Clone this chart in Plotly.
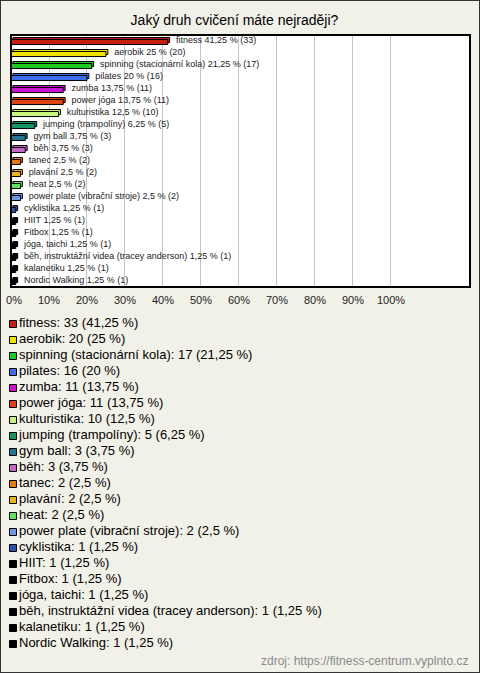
import plotly.graph_objects as go

title = "Jaký druh cvičení máte nejraději?"
source = "zdroj: https://fitness-centrum.vyplnto.cz"

categories = [
    "fitness", "aerobik", "spinning (stacionární kola)", "pilates", "zumba",
    "power jóga", "kulturistika", "jumping (trampolíny)", "gym ball", "běh",
    "tanec", "plavání", "heat", "power plate (vibrační stroje)", "cyklistika",
    "HIIT", "Fitbox", "jóga, taichi", "běh, instruktážní videa (tracey anderson)",
    "kalanetiku", "Nordic Walking",
]
counts = [33, 20, 17, 16, 11, 11, 10, 5, 3, 3, 2, 2, 2, 2, 1, 1, 1, 1, 1, 1, 1]
colors = [
    "#c81e0f", "#f2e400", "#1ec81e", "#3c6ef0", "#c814d2",
    "#e0420f", "#c8f57a", "#149664", "#1e7896", "#c864c8",
    "#e6780a", "#e6b414", "#5ae65a", "#6e96e6", "#2850b4",
    "#000000", "#000000", "#000000", "#000000", "#000000", "#000000",
]
tick_vals = [0, 10, 20, 30, 40, 50, 60, 70, 80, 90, 100]
tick_text = ["\u00a0\u00a00%"] + [f"{v}%" for v in tick_vals[1:]]

total = 80
pcts = [c / total * 100 for c in counts]


def fmt(v):
    s = f"{v:.2f}".rstrip("0").rstrip(".")
    return s.replace(".", ",")


bar_labels = [f"{n} {fmt(p)} % ({c})" for n, p, c in zip(categories, pcts, counts)]
legend_labels = [f"{n}: {c} ({fmt(p)} %)" for n, p, c in zip(categories, pcts, counts)]
idx = list(range(len(categories)))

W, H = 480, 673
BG = "#f2f1e8"
def py(px):
    return 1 - px / H

fig = go.Figure()

# back (3D) face
fig.add_trace(go.Bar(
    y=idx, x=pcts, base=0.5, orientation="h",
    width=0.42, offset=-0.29,
    marker=dict(color=colors, line=dict(color="#000000", width=1)),
    hoverinfo="skip", showlegend=False, xaxis="x", yaxis="y",
))
# front face
fig.add_trace(go.Bar(
    y=idx, x=pcts, orientation="h",
    width=0.42, offset=-0.125,
    marker=dict(color=colors, line=dict(color="#000000", width=1)),
    hoverinfo="skip", showlegend=False, xaxis="x", yaxis="y",
))
# bar labels
fig.add_trace(go.Scatter(
    y=idx, x=[p + 2.2 for p in pcts], mode="text", text=bar_labels,
    textposition="middle right",
    textfont=dict(family="Liberation Sans, Arial", size=9, color="#222222"),
    hoverinfo="skip", showlegend=False, xaxis="x", yaxis="y", cliponaxis=False,
))

# legend markers
fig.add_trace(go.Scatter(
    y=idx, x=[13] * len(idx), mode="markers",
    marker=dict(symbol="square", size=7, color=colors,
                line=dict(color="#000000", width=1)),
    hoverinfo="skip", showlegend=False, xaxis="x2", yaxis="y2",
))
fig.add_trace(go.Scatter(
    y=idx, x=[19] * len(idx), mode="text", text=legend_labels,
    textposition="middle right",
    textfont=dict(family="Liberation Sans, Arial", size=13, color="#000000"),
    hoverinfo="skip", showlegend=False, xaxis="x2", yaxis="y2", cliponaxis=False,
))

fig.update_layout(
    width=W, height=H,
    margin=dict(l=0, r=0, t=0, b=0, autoexpand=False),
    paper_bgcolor=BG,
    plot_bgcolor=BG,
    barmode="overlay",
    font=dict(family="Liberation Sans, Arial", color="#222222"),
    xaxis=dict(
        domain=[11 / W, 470 / W], range=[0, 120.8],
        tickvals=tick_vals, ticktext=tick_text,
        showgrid=True, gridcolor="#c4c4c4", gridwidth=1,
        zeroline=False, showline=False, ticks="",
        tickfont=dict(size=11, color="#222222"),
        ticklabelstandoff=5, ticklabeloverflow="allow", automargin=False,
        anchor="y", fixedrange=True,
    ),
    yaxis=dict(
        domain=[py(287), py(35)], range=[20.5, -0.5],
        showticklabels=False, showgrid=False, zeroline=False,
        showline=False, ticks="", anchor="x", fixedrange=True, automargin=False,
    ),
    xaxis2=dict(
        domain=[0, 1], range=[0, W], visible=False, anchor="y2",
        fixedrange=True, automargin=False,
    ),
    yaxis2=dict(
        domain=[py(652), py(316)], range=[20.5, -0.5], visible=False,
        anchor="x2", fixedrange=True, automargin=False,
    ),
    title=dict(
        text=title, x=234.5 / W, xanchor="center", y=py(20), yanchor="middle",
        font=dict(family="Liberation Sans, Arial", size=14, color="#000000"),
    ),
    annotations=[dict(
        text=source, xref="paper", yref="paper", x=470 / W, y=py(661),
        xanchor="right", yanchor="middle", showarrow=False,
        font=dict(family="Liberation Sans, Arial", size=12, color="#8a8a8a"),
    )],
    shapes=[
        dict(type="rect", xref="x domain", yref="y domain", x0=0, x1=1, y0=0, y1=1,
             line=dict(width=0), fillcolor="#ffffff", layer="below"),
        dict(type="rect", xref="x domain", yref="y domain", x0=0, x1=1, y0=0, y1=1,
             line=dict(color="#000000", width=2), fillcolor="rgba(0,0,0,0)", layer="above"),
        dict(type="rect", xref="paper", yref="paper", x0=0, x1=1, y0=0, y1=1,
             line=dict(color="#333333", width=2), fillcolor="rgba(0,0,0,0)"),
    ],
)

# remove the default body margin both immediately and after the plot is drawn
reset_margin = "document.body.style.margin='0';document.body.style.overflow='hidden';"
fig.write_html(
    "out.html",
    config={"displayModeBar": False},
    post_script=reset_margin + "}); " + reset_margin + " (function(){",
)
